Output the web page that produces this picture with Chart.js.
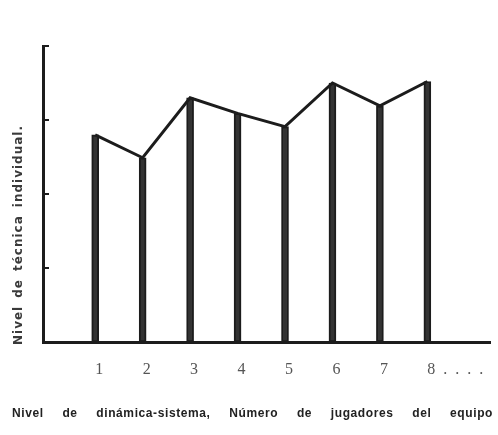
<!DOCTYPE html>
<html>
<head>
<meta charset="utf-8">
<script src="https://cdn.jsdelivr.net/npm/chart.js@4/dist/chart.umd.min.js"></script>
<style>
html,body{margin:0;padding:0;background:#fff;}
#wrap{width:498px;height:435px;position:relative;}
</style>
</head>
<body>
<div id="wrap"><canvas id="c" width="498" height="435"></canvas></div>
<script>
// Data
const players = [1, 2, 3, 4, 5, 6, 7, 8];
const tickLabels = ['1', '2', '3', '4', '5', '6', '7', '8  .  .  .  .'];
const technique = [2.80, 2.49, 3.30, 3.09, 2.91, 3.50, 3.19, 3.52];
const yLevels = [1, 2, 3, 4];
const xTitle = 'Nivel de dinámica-sistema, Número de jugadores del equipo';
const yTitle = 'Nivel de técnica individual.';

const points = players.map((p, i) => ({x: p, y: technique[i]}));
const ink = '#1c1c1c';

function drawJustified(ctx, text, x0, x1, y) {
  const words = text.split(' ');
  const widths = words.map(w => ctx.measureText(w).width);
  const total = widths.reduce((a, b) => a + b, 0);
  const gap = words.length > 1 ? (x1 - x0 - total) / (words.length - 1) : 0;
  let x = x0;
  words.forEach((w, i) => { ctx.fillText(w, x, y); x += widths[i] + gap; });
}

const decor = {
  id: 'decor',
  afterDraw(chart) {
    const ctx = chart.ctx;
    const ys = chart.scales.y;
    const area = chart.chartArea;
    ctx.save();
    // inward tick marks on the vertical axis
    ctx.strokeStyle = ink;
    ctx.lineWidth = 2;
    yLevels.forEach(v => {
      const py = ys.getPixelForValue(v);
      ctx.beginPath();
      ctx.moveTo(area.left, py);
      ctx.lineTo(area.left + 6, py);
      ctx.stroke();
    });
    // axis titles
    ctx.fillStyle = '#222';
    ctx.textBaseline = 'middle';
    ctx.textAlign = 'left';
    ctx.font = 'bold 12px "Liberation Sans", Arial, sans-serif';
    ctx.letterSpacing = '0.6px';
    drawJustified(ctx, xTitle, 12, 493, 414);
    ctx.translate(19, 345);
    ctx.rotate(-Math.PI / 2);
    ctx.fillStyle = '#3a3a3a';
    ctx.font = 'bold 12px "DejaVu Sans", sans-serif';
    ctx.letterSpacing = '1px';
    drawJustified(ctx, yTitle, 0, 220, 0);
    ctx.restore();
  }
};

new Chart(document.getElementById('c'), {
  type: 'bar',
  data: {
    datasets: [
      {
        type: 'line',
        data: points,
        borderColor: ink,
        borderWidth: 3,
        pointRadius: 0,
        tension: 0,
        fill: false,
        order: 0
      },
      {
        type: 'bar',
        data: points,
        backgroundColor: '#333',
        borderColor: ink,
        borderWidth: 2,
        borderSkipped: false,
        barThickness: 7,
        order: 1
      }
    ]
  },
  options: {
    responsive: false,
    animation: false,
    events: [],
    layout: {padding: {left: 43, right: 8, top: 46, bottom: 0}},
    plugins: {legend: {display: false}, tooltip: {enabled: false}},
    scales: {
      x: {
        type: 'linear',
        min: -0.1,
        max: 9.32,
        offset: false,
        grid: {display: false, drawTicks: false},
        border: {display: true, color: ink, width: 3},
        afterBuildTicks: s => { s.ticks = players.map(v => ({value: v})); },
        afterFit: s => { s.height = 93; s.paddingLeft = 0; s.paddingRight = 0; },
        ticks: {
          autoSkip: false,
          maxRotation: 0,
          minRotation: 0,
          align: 'start',
          padding: 18,
          color: '#555',
          font: {family: '"Liberation Serif", "DejaVu Serif", serif', size: 16},
          callback: (v) => { const i = players.indexOf(v); return i >= 0 ? tickLabels[i] : ''; }
        }
      },
      y: {
        min: 0,
        max: 4,
        grid: {display: false, drawTicks: false},
        border: {display: true, color: ink, width: 3},
        afterBuildTicks: s => { s.ticks = yLevels.map(v => ({value: v})); },
        afterFit: s => { s.width = 0; s.paddingTop = 0; s.paddingBottom = 0; },
        ticks: {display: false}
      }
    }
  },
  plugins: [decor]
});
</script>
</body>
</html>
